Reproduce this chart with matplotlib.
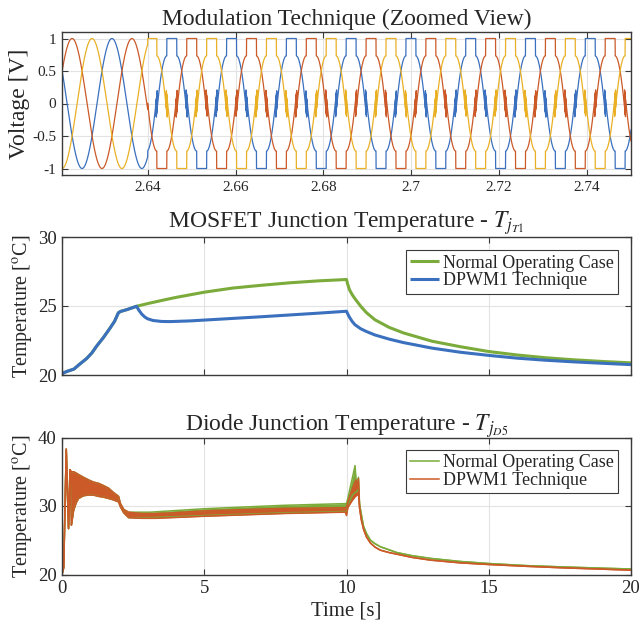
import numpy as np
import matplotlib
matplotlib.use("Agg")
import matplotlib.pyplot as plt

plt.rcParams['font.family'] = ['Liberation Serif', 'DejaVu Serif']
plt.rcParams['mathtext.fontset'] = 'stix'

# ---------------- data ----------------
# Top panel: modulation signals (three-phase sine, then DPWM1 after switch time)
mod_xlim = (2.6205, 2.75)
mod_freq = 73.5          # Hz
mod_index = 1.0          # amplitude of the sine references
mod_t_peak_a = 2.6228    # time of first peak of phase a (orange)
mod_t_switch = 2.64      # DPWM1 enabled from here
mod_xticks = [2.64, 2.66, 2.68, 2.70, 2.72, 2.74]
mod_xticklabels = ['2.64', '2.66', '2.68', '2.7', '2.72', '2.74']
mod_yticks = [-1, -0.5, 0, 0.5, 1]
mod_yticklabels = ['-1', '-0.5', '0', '0.5', '1']

# Middle panel: MOSFET junction temperature
mos_t_common = [0, 0.05, 0.16, 0.42, 0.6, 0.87, 1.05, 1.22, 1.45, 1.69, 1.85, 1.98, 2.05, 2.3, 2.62]
mos_T_common = [20.0, 20.15, 20.25, 20.43, 20.75, 21.2, 21.6, 22.1, 22.7, 23.4, 23.9, 24.5, 24.6, 24.75, 24.98]
mos_t_normal = [2.62, 3.0, 3.5, 4.0, 5.0, 6.0, 7.0, 8.0, 9.0, 10.0, 10.04, 10.1, 10.2, 10.3, 10.5, 10.7,
                11.0, 11.5, 12.0, 13.0, 14.0, 15.0, 16.0, 17.0, 18.0, 19.0, 20.0]
mos_T_normal = [24.98, 25.17, 25.4, 25.62, 26.0, 26.3, 26.5, 26.68, 26.82, 26.92, 26.6, 26.2, 25.82, 25.52, 24.98, 24.52,
                24.0, 23.45, 23.05, 22.45, 22.05, 21.7, 21.45, 21.25, 21.1, 20.98, 20.88]
mos_t_dpwm = [2.62, 2.7, 2.8, 2.9, 3.0, 3.2, 3.5, 3.8, 4.5, 5.0, 6.0, 7.0, 8.0, 9.0, 10.0, 10.05, 10.1, 10.2, 10.3,
              10.5, 10.7, 11.0, 11.5, 12.0, 13.0, 14.0, 15.0, 16.0, 17.0, 18.0, 19.0, 20.0]
mos_T_dpwm = [24.98, 24.7, 24.42, 24.22, 24.08, 23.95, 23.88, 23.87, 23.92, 23.98, 24.1, 24.22, 24.35, 24.48, 24.62,
              24.4, 24.2, 23.88, 23.64, 23.35, 23.15, 22.9, 22.6, 22.35, 21.95, 21.65, 21.42, 21.22, 21.07, 20.95,
              20.85, 20.75]

# Bottom panel: diode junction temperature (ripple band: lower / upper envelope)
dio_t_common = [0, 0.06, 0.15, 0.19, 0.23, 0.28, 0.33, 0.36, 0.41, 0.5, 0.58, 0.75, 0.94, 1.1, 1.29, 1.45,
                1.64, 1.8, 1.99, 2.05, 2.17, 2.34]
dio_lo_common = [20.0, 21.0, 38.3, 32.0, 26.7, 35.3, 27.2, 28.0, 29.4, 30.5, 31.1, 31.5, 31.6, 31.6, 31.4, 31.3,
                 31.1, 30.9, 30.6, 29.9, 29.0, 28.3]
dio_hi_common = [20.0, 21.0, 38.3, 32.0, 26.7, 35.3, 35.0, 35.0, 35.0, 34.8, 34.6, 34.2, 33.8, 33.5, 33.3, 33.0,
                 32.6, 32.0, 31.4, 30.4, 29.5, 29.1]
dio_t_normal = [2.34, 3.1, 5.0, 7.79, 9.96, 10.0, 10.05, 10.2, 10.3, 10.35, 10.42, 10.46, 10.52, 10.6, 10.7,
                10.84, 11.0, 11.19, 11.5, 11.77, 12.3, 12.95, 14.0, 15.0, 16.3, 17.63, 19.0, 20.0]
dio_lo_normal = [28.3, 28.3, 28.6, 29.0, 29.2, 29.0, 30.2, 31.5, 32.0, 32.0, 32.5, 30.2, 28.8, 27.0, 26.0,
                 25.0, 24.5, 24.05, 23.6, 23.2, 22.75, 22.35, 21.9, 21.6, 21.3, 21.1, 20.92, 20.8]
dio_hi_normal = [29.1, 29.1, 29.6, 30.1, 30.35, 30.35, 31.2, 34.0, 35.9, 33.0, 34.2, 30.2, 28.8, 27.0, 26.0,
                 25.0, 24.5, 24.05, 23.6, 23.2, 22.75, 22.35, 21.9, 21.6, 21.3, 21.1, 20.92, 20.8]
dio_t_dpwm = [2.34, 2.81, 3.28, 3.86, 5.0, 7.79, 9.96, 10.0, 10.05, 10.2, 10.33, 10.36, 10.42, 10.46, 10.52,
              10.6, 10.7, 10.84, 11.0, 11.19, 11.5, 11.77, 12.3, 12.95, 14.0, 15.0, 16.3, 17.63, 19.0, 20.0]
dio_lo_dpwm = [28.3, 28.2, 28.2, 28.3, 28.5, 28.9, 29.1, 28.6, 29.8, 30.8, 31.5, 31.5, 32.0, 29.7, 28.0,
               26.6, 25.5, 24.6, 24.0, 23.55, 23.2, 22.97, 22.5, 22.1, 21.7, 21.46, 21.2, 20.97, 20.78, 20.63]
dio_hi_dpwm = [29.1, 28.9, 28.9, 29.0, 29.3, 29.66, 29.75, 29.8, 30.6, 32.5, 33.8, 32.5, 34.0, 29.7, 28.0,
               26.6, 25.5, 24.6, 24.0, 23.55, 23.2, 22.97, 22.5, 22.1, 21.7, 21.46, 21.2, 20.97, 20.78, 20.63]

legend_labels = ['Normal Operating Case', 'DPWM1 Technique']

# ---------------- styling ----------------
C_BLUE = '#3A70BE'
C_ORANGE = '#CB5A28'
C_YELLOW = '#E9B026'
C_GREEN = '#7BAB3A'
AX_COL = '#3a3a3a'
TXT_COL = '#262626'
GRID_COL = '#e3e3e3'

fig = plt.figure(figsize=(6.42, 6.37), dpi=100)
W, H = 642, 637
def ax_rect(l, t, r, b):
    return [l / W, 1 - b / H, (r - l) / W, (b - t) / H]

ax1 = fig.add_axes(ax_rect(62, 32, 631, 175))
ax2 = fig.add_axes(ax_rect(62, 237, 631, 375))
ax3 = fig.add_axes(ax_rect(62, 437.5, 631, 574.5))

def style(ax, ticksize):
    for s in ax.spines.values():
        s.set_color(AX_COL)
        s.set_linewidth(1.0)
    ax.tick_params(direction='in', top=True, right=True, length=4, width=0.8,
                   colors=AX_COL, labelcolor=TXT_COL, labelsize=ticksize, pad=4)
    ax.grid(True, color=GRID_COL, linewidth=0.8)
    ax.set_axisbelow(True)

# ---------------- top panel ----------------
t = np.linspace(mod_xlim[0], mod_xlim[1], 60000)
theta = 2 * np.pi * mod_freq * (t - mod_t_peak_a) + np.pi / 2
va = mod_index * np.sin(theta)
vb = mod_index * np.sin(theta - 2 * np.pi / 3)
vc = mod_index * np.sin(theta + 2 * np.pi / 3)
dither = 0.05 * np.sign(np.sin(2 * np.pi * 24000 * t))

def dpwm1(vx, vy, vz):
    cy = vx + np.sign(vy) - vy
    cz = vx + np.sign(vz) - vz
    pick_y = (np.abs(vy) + dither) > np.abs(vz)
    out = np.where(pick_y, cy, cz)
    clamp = (np.abs(vx) >= np.abs(vy)) & (np.abs(vx) >= np.abs(vz))
    return np.where(clamp, np.sign(vx), out)

sig_a = np.where(t < mod_t_switch, va, dpwm1(va, vb, vc))
sig_b = np.where(t < mod_t_switch, vb, dpwm1(vb, vc, va))
sig_c = np.where(t < mod_t_switch, vc, dpwm1(vc, va, vb))

ax1.plot(t, sig_c, color=C_BLUE, lw=0.9)
ax1.plot(t, sig_a, color=C_ORANGE, lw=0.9)
ax1.plot(t, sig_b, color=C_YELLOW, lw=0.9)
ax1.set_xlim(*mod_xlim)
ax1.set_ylim(-1.1, 1.1)
ax1.set_xticks(mod_xticks)
ax1.set_xticklabels(mod_xticklabels)
ax1.set_yticks(mod_yticks)
ax1.set_yticklabels(mod_yticklabels)
style(ax1, 11)
ax1.set_ylabel('Voltage [V]', fontsize=17, color=TXT_COL, labelpad=2)
ax1.set_title('Modulation Technique (Zoomed View)', fontsize=17, color=TXT_COL, pad=5)

# ---------------- middle panel ----------------
ax2.plot(mos_t_common + mos_t_normal[1:], mos_T_common + mos_T_normal[1:], color=C_GREEN, lw=2.2,
         label=legend_labels[0], solid_capstyle='butt')
ax2.plot(mos_t_common + mos_t_dpwm[1:], mos_T_common + mos_T_dpwm[1:], color=C_BLUE, lw=2.2,
         label=legend_labels[1], solid_capstyle='butt')
ax2.set_xlim(0, 20)
ax2.set_ylim(20, 30)
ax2.set_xticks([0, 5, 10, 15, 20])
ax2.set_xticklabels([])
ax2.set_yticks([20, 25, 30])
style(ax2, 13.5)
ax2.set_ylabel('Temperature [$^{\\mathrm{o}}$C]', fontsize=14.5, color=TXT_COL, labelpad=2)
ax2.set_title('MOSFET Junction Temperature - $T_{j_{T1}}$', fontsize=17, color=TXT_COL, pad=5)
leg2 = ax2.legend(loc='upper right', bbox_to_anchor=(1 - 13 / 569, 1 - 13 / 138), borderaxespad=0,
                  fontsize=13, handlelength=1.6, handletextpad=0.2, borderpad=0.25, labelspacing=0.05,
                  fancybox=False, framealpha=1, edgecolor=AX_COL)
leg2.get_frame().set_linewidth(0.8)
for txt in leg2.get_texts():
    txt.set_color(TXT_COL)

# ---------------- bottom panel ----------------
for tt, lo, hi, col, lab in [
        (dio_t_common + dio_t_normal[1:], dio_lo_common + dio_lo_normal[1:], dio_hi_common + dio_hi_normal[1:],
         C_GREEN, legend_labels[0]),
        (dio_t_common + dio_t_dpwm[1:], dio_lo_common + dio_lo_dpwm[1:], dio_hi_common + dio_hi_dpwm[1:],
         C_ORANGE, legend_labels[1])]:
    ax3.fill_between(tt, lo, hi, color=col, lw=0)
    ax3.plot(tt, lo, color=col, lw=1.1)
    ax3.plot(tt, hi, color=col, lw=1.1, label=lab)
ax3.set_xlim(0, 20)
ax3.set_ylim(20, 40)
ax3.set_xticks([0, 5, 10, 15, 20])
ax3.set_yticks([20, 30, 40])
style(ax3, 13.5)
ax3.set_ylabel('Temperature [$^{\\mathrm{o}}$C]', fontsize=14.5, color=TXT_COL, labelpad=2)
ax3.set_xlabel('Time [s]', fontsize=15, color=TXT_COL, labelpad=3)
ax3.set_title('Diode Junction Temperature - $T_{j_{D5}}$', fontsize=17, color=TXT_COL, pad=5)
leg3 = ax3.legend(loc='upper right', bbox_to_anchor=(1 - 13 / 569, 1 - 12 / 137), borderaxespad=0,
                  fontsize=13, handlelength=1.6, handletextpad=0.2, borderpad=0.25, labelspacing=0.05,
                  fancybox=False, framealpha=1, edgecolor=AX_COL)
leg3.get_frame().set_linewidth(0.8)
for txt in leg3.get_texts():
    txt.set_color(TXT_COL)

fig.savefig('out.png', dpi=100)
